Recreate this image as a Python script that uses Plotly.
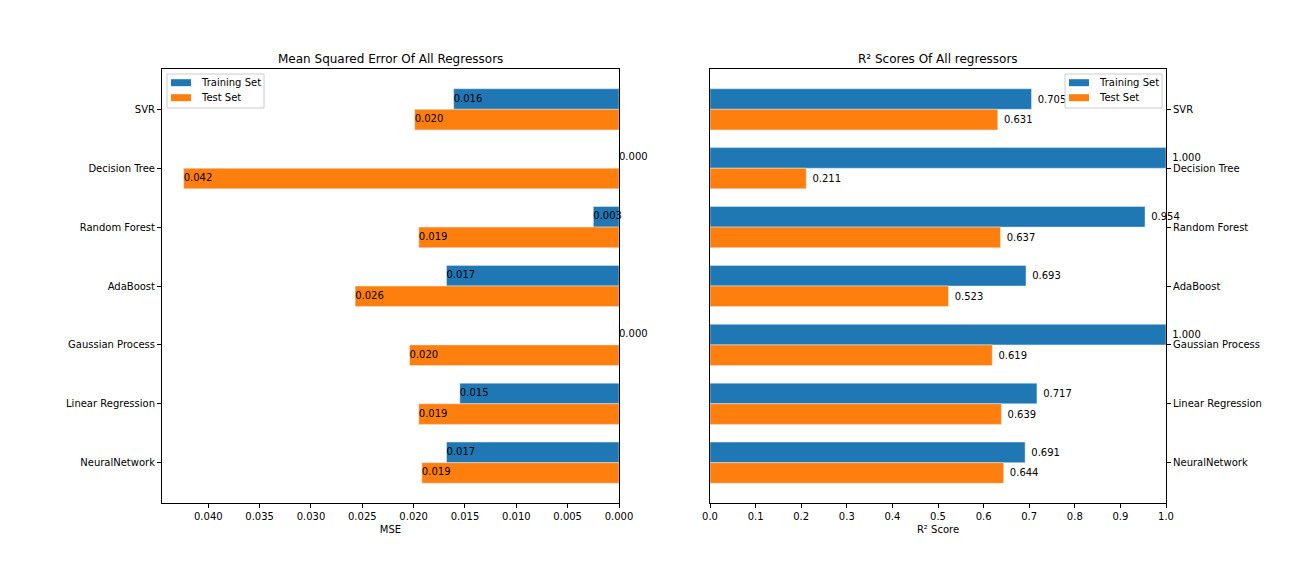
import plotly.graph_objects as go

categories = ["SVR", "Decision Tree", "Random Forest", "AdaBoost",
              "Gaussian Process", "Linear Regression", "NeuralNetwork"]
mse_train = [0.0161, 0.0000, 0.0025, 0.0168, 0.0000, 0.0155, 0.0168]
mse_test = [0.0199, 0.0424, 0.0195, 0.0257, 0.0204, 0.0195, 0.0192]
r2_train = [0.705, 1.000, 0.954, 0.693, 1.000, 0.717, 0.691]
r2_test = [0.631, 0.211, 0.637, 0.523, 0.619, 0.639, 0.644]
mse_ticks = [0.040, 0.035, 0.030, 0.025, 0.020, 0.015, 0.010, 0.005, 0.000]
r2_ticks = [0.0, 0.1, 0.2, 0.3, 0.4, 0.5, 0.6, 0.7, 0.8, 0.9, 1.0]
series_names = ["Training Set", "Test Set"]

BLUE = "#1f77b4"
ORANGE = "#ff7f0e"
COLORS = [BLUE, ORANGE]
FONT = "DejaVu Sans"
FS = 10
W = 0.35

n = len(categories)
pos = [n - 1 - i for i in range(n)]
pos_train = [p + W / 2 for p in pos]
pos_test = [p - W / 2 for p in pos]

fig = go.Figure()

# Left: MSE
fig.add_trace(go.Bar(x=mse_train, y=pos_train, orientation="h", width=W,
                     marker_color=BLUE, name=series_names[0], showlegend=False,
                     xaxis="x", yaxis="y"))
fig.add_trace(go.Bar(x=mse_test, y=pos_test, orientation="h", width=W,
                     marker_color=ORANGE, name=series_names[1], showlegend=False,
                     xaxis="x", yaxis="y"))
fig.add_trace(go.Scatter(x=mse_train + mse_test, y=pos_train + pos_test,
                         mode="text",
                         text=[f"{v:.3f}" for v in mse_train + mse_test],
                         textposition="middle right",
                         textfont=dict(family=FONT, size=FS, color="black"),
                         cliponaxis=False, showlegend=False,
                         xaxis="x", yaxis="y"))

# Right: R2
fig.add_trace(go.Bar(x=r2_train, y=pos_train, orientation="h", width=W,
                     marker_color=BLUE, name=series_names[0], showlegend=False,
                     text=[f" {v:.3f}" for v in r2_train],
                     textposition="outside", cliponaxis=False,
                     textfont=dict(family=FONT, size=FS, color="black"),
                     xaxis="x2", yaxis="y2"))
fig.add_trace(go.Bar(x=r2_test, y=pos_test, orientation="h", width=W,
                     marker_color=ORANGE, name=series_names[1], showlegend=False,
                     text=[f" {v:.3f}" for v in r2_test],
                     textposition="outside", cliponaxis=False,
                     textfont=dict(family=FONT, size=FS, color="black"),
                     xaxis="x2", yaxis="y2"))

yrange = [-(W + 0.335), n - 1 + W + 0.335]

axis_common = dict(showgrid=False, zeroline=False, showline=True, mirror=True,
                   linecolor="black", linewidth=1, ticks="outside", ticklen=4,
                   tickcolor="black", automargin=False,
                   tickfont=dict(family=FONT, size=FS, color="black"))

# page body has an 8px margin; the paper is sized to fill the rest of the window
PW, PH = 1288, 568
OFF = 8


def px(x):
    return (x - OFF) / PW


def py(y):
    return 1 - (y - OFF) / PH


x0a, x1a = px(162), px(619)
x0b, x1b = px(710), px(1166)
yd = [py(503), py(69)]

shapes = []
annotations = [
    dict(text="Mean Squared Error Of All Regressors", xref="paper", yref="paper",
         x=(x0a + x1a) / 2, y=yd[1], yshift=1, xanchor="center", yanchor="bottom",
         showarrow=False, font=dict(family=FONT, size=12, color="black")),
    dict(text="R² Scores Of All regressors", xref="paper", yref="paper",
         x=(x0b + x1b) / 2, y=yd[1], yshift=1, xanchor="center", yanchor="bottom",
         showarrow=False, font=dict(family=FONT, size=12, color="black")),
]

# legend boxes (left: upper-left, right: upper-right), matplotlib-style
for box_left in (167, 1065):
    box_right = box_left + 97
    shapes.append(dict(type="rect", xref="paper", yref="paper", layer="above",
                       x0=px(box_left), x1=px(box_right), y0=py(108), y1=py(74),
                       line=dict(color="#cccccc", width=1),
                       fillcolor="rgba(255,255,255,0.8)"))
    for k, (name, col) in enumerate(zip(series_names, COLORS)):
        cy = 82.7 + 15 * k
        shapes.append(dict(type="rect", xref="paper", yref="paper", layer="above",
                           x0=px(box_left + 4), x1=px(box_left + 24),
                           y0=py(cy + 3.5), y1=py(cy - 3.5),
                           line=dict(width=0), fillcolor=col))
        annotations.append(dict(text=name, xref="paper", yref="paper",
                                x=px(box_left + 32), y=py(cy), xanchor="left",
                                yanchor="middle", showarrow=False,
                                font=dict(family=FONT, size=FS, color="black")))

fig.update_layout(
    width=PW, height=PH,
    margin=dict(l=0, r=0, t=0, b=0),
    paper_bgcolor="white", plot_bgcolor="white",
    font=dict(family=FONT, size=FS, color="black"),
    barmode="overlay",
    showlegend=False,
    xaxis=dict(domain=[x0a, x1a], range=[0.04451, 0], tickvals=mse_ticks,
               ticktext=[f"{t:.3f}" for t in mse_ticks],
               title=dict(text="MSE", font=dict(family=FONT, size=FS), standoff=4),
               anchor="y", **axis_common),
    yaxis=dict(domain=yd, range=yrange, tickvals=pos, ticktext=categories,
               anchor="x", **axis_common),
    xaxis2=dict(domain=[x0b, x1b], range=[0, 1], tickvals=r2_ticks,
                ticktext=[f"{t:.1f}" for t in r2_ticks],
                title=dict(text="R² Score", font=dict(family=FONT, size=FS), standoff=4),
                anchor="y2", **axis_common),
    yaxis2=dict(domain=yd, range=yrange, tickvals=pos, ticktext=categories,
                side="right", anchor="x2", **axis_common),
    shapes=shapes,
    annotations=annotations,
)

fig.write_html("out.html")
